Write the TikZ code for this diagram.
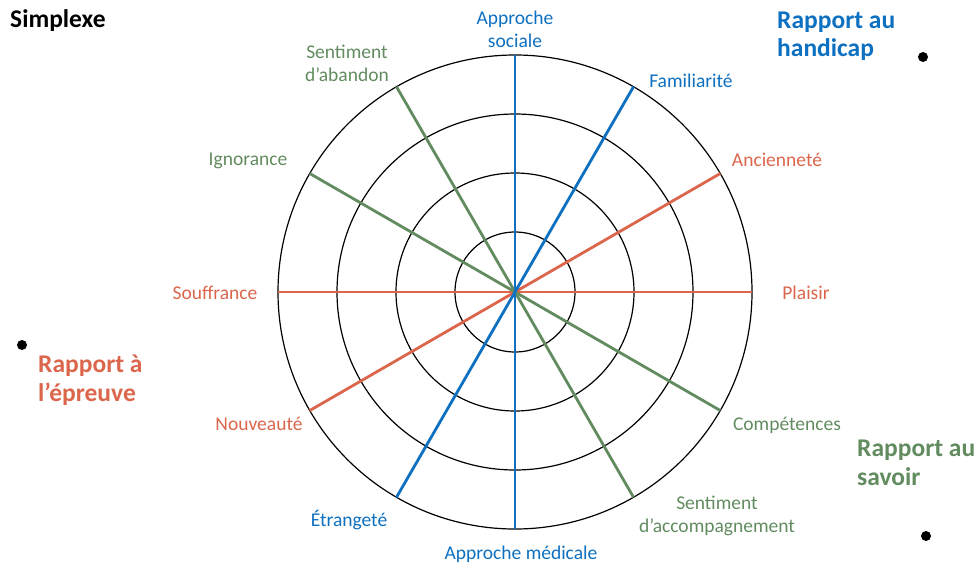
\documentclass[tikz,border=0pt]{standalone}
\usepackage{fontspec}
\setmainfont{Carlito}
\definecolor{cblue}{RGB}{14,112,192}
\definecolor{cred}{RGB}{219,102,76}
\definecolor{cgreen}{RGB}{98,140,96}
\begin{document}
\begin{tikzpicture}[x=1pt,y=1pt,
  lab/.style={font=\fontsize{19.5}{23}\selectfont, align=center, inner sep=0pt},
  head/.style={font=\bfseries\fontsize{25.5}{28.5}\selectfont, align=left, inner sep=0pt, anchor=west},
  ring/.style={draw=black, line width=1.2pt},
  spoke/.style={line width=2.8pt},
  dotmark/.style={circle, fill=black, inner sep=0pt, minimum size=10pt}]
\useasboundingbox (0,0) rectangle (977,-565);
\coordinate (O) at (515,-292);
\foreach \r in {60,119,178,237} \draw[ring] (O) circle (\r);
\foreach \a in {0,30,60,90,120,150,180,210,240,270,300,330}
  \path (O) ++(\a:237) coordinate (e\a);
\draw[spoke,cred] (e0) -- (e180);
\draw[spoke,cred] (e30) -- (e210);
\draw[spoke,cgreen] (e150) -- (e330);
\draw[spoke,cgreen] (e120) -- (e300);
\draw[spoke,cblue] (e60) -- (e240);
\draw[spoke,cblue] (e90) -- (e270);
% labels
\node[lab,text=cblue] (sociale) at (515,-29) {Approche\\sociale};
\node[lab,text=cblue] (famil) at (691,-81) {Familiarité};
\node[lab,text=cred] (ancien) at (777,-160) {Ancienneté};
\node[lab,text=cred] (plaisir) at (806,-293) {Plaisir};
\node[lab,text=cgreen] (compet) at (787,-425) {Compétences};
\node[lab,text=cgreen] (accomp) at (717,-516) {Sentiment\\d’accompagnement};
\node[lab,text=cblue] (medic) at (521,-554) {Approche médicale};
\node[lab,text=cblue] (etrange) at (349,-520) {Étrangeté};
\node[lab,text=cred] (nouv) at (259,-424) {Nouveauté};
\node[lab,text=cred] (souff) at (215,-293) {Souffrance};
\node[lab,text=cgreen] (ignor) at (248,-161) {Ignorance};
\node[lab,text=cgreen] (abandon) at (347,-63) {Sentiment\\d’abandon};
% headings
\node[head,text=black] (simplexe) at (10,-21) {Simplexe};
\node[head,text=cblue] (handicap) at (777,-36) {Rapport au\\handicap};
\node[head,text=cred] (epreuve) at (38,-380) {Rapport à\\l’épreuve};
\node[head,text=cgreen] (savoir) at (857,-463) {Rapport au\\savoir};
% dots
\node[dotmark] (d1) at (923,-57) {};
\node[dotmark] (d2) at (22,-345) {};
\node[dotmark] (d3) at (926,-536) {};
\end{tikzpicture}
\end{document}
